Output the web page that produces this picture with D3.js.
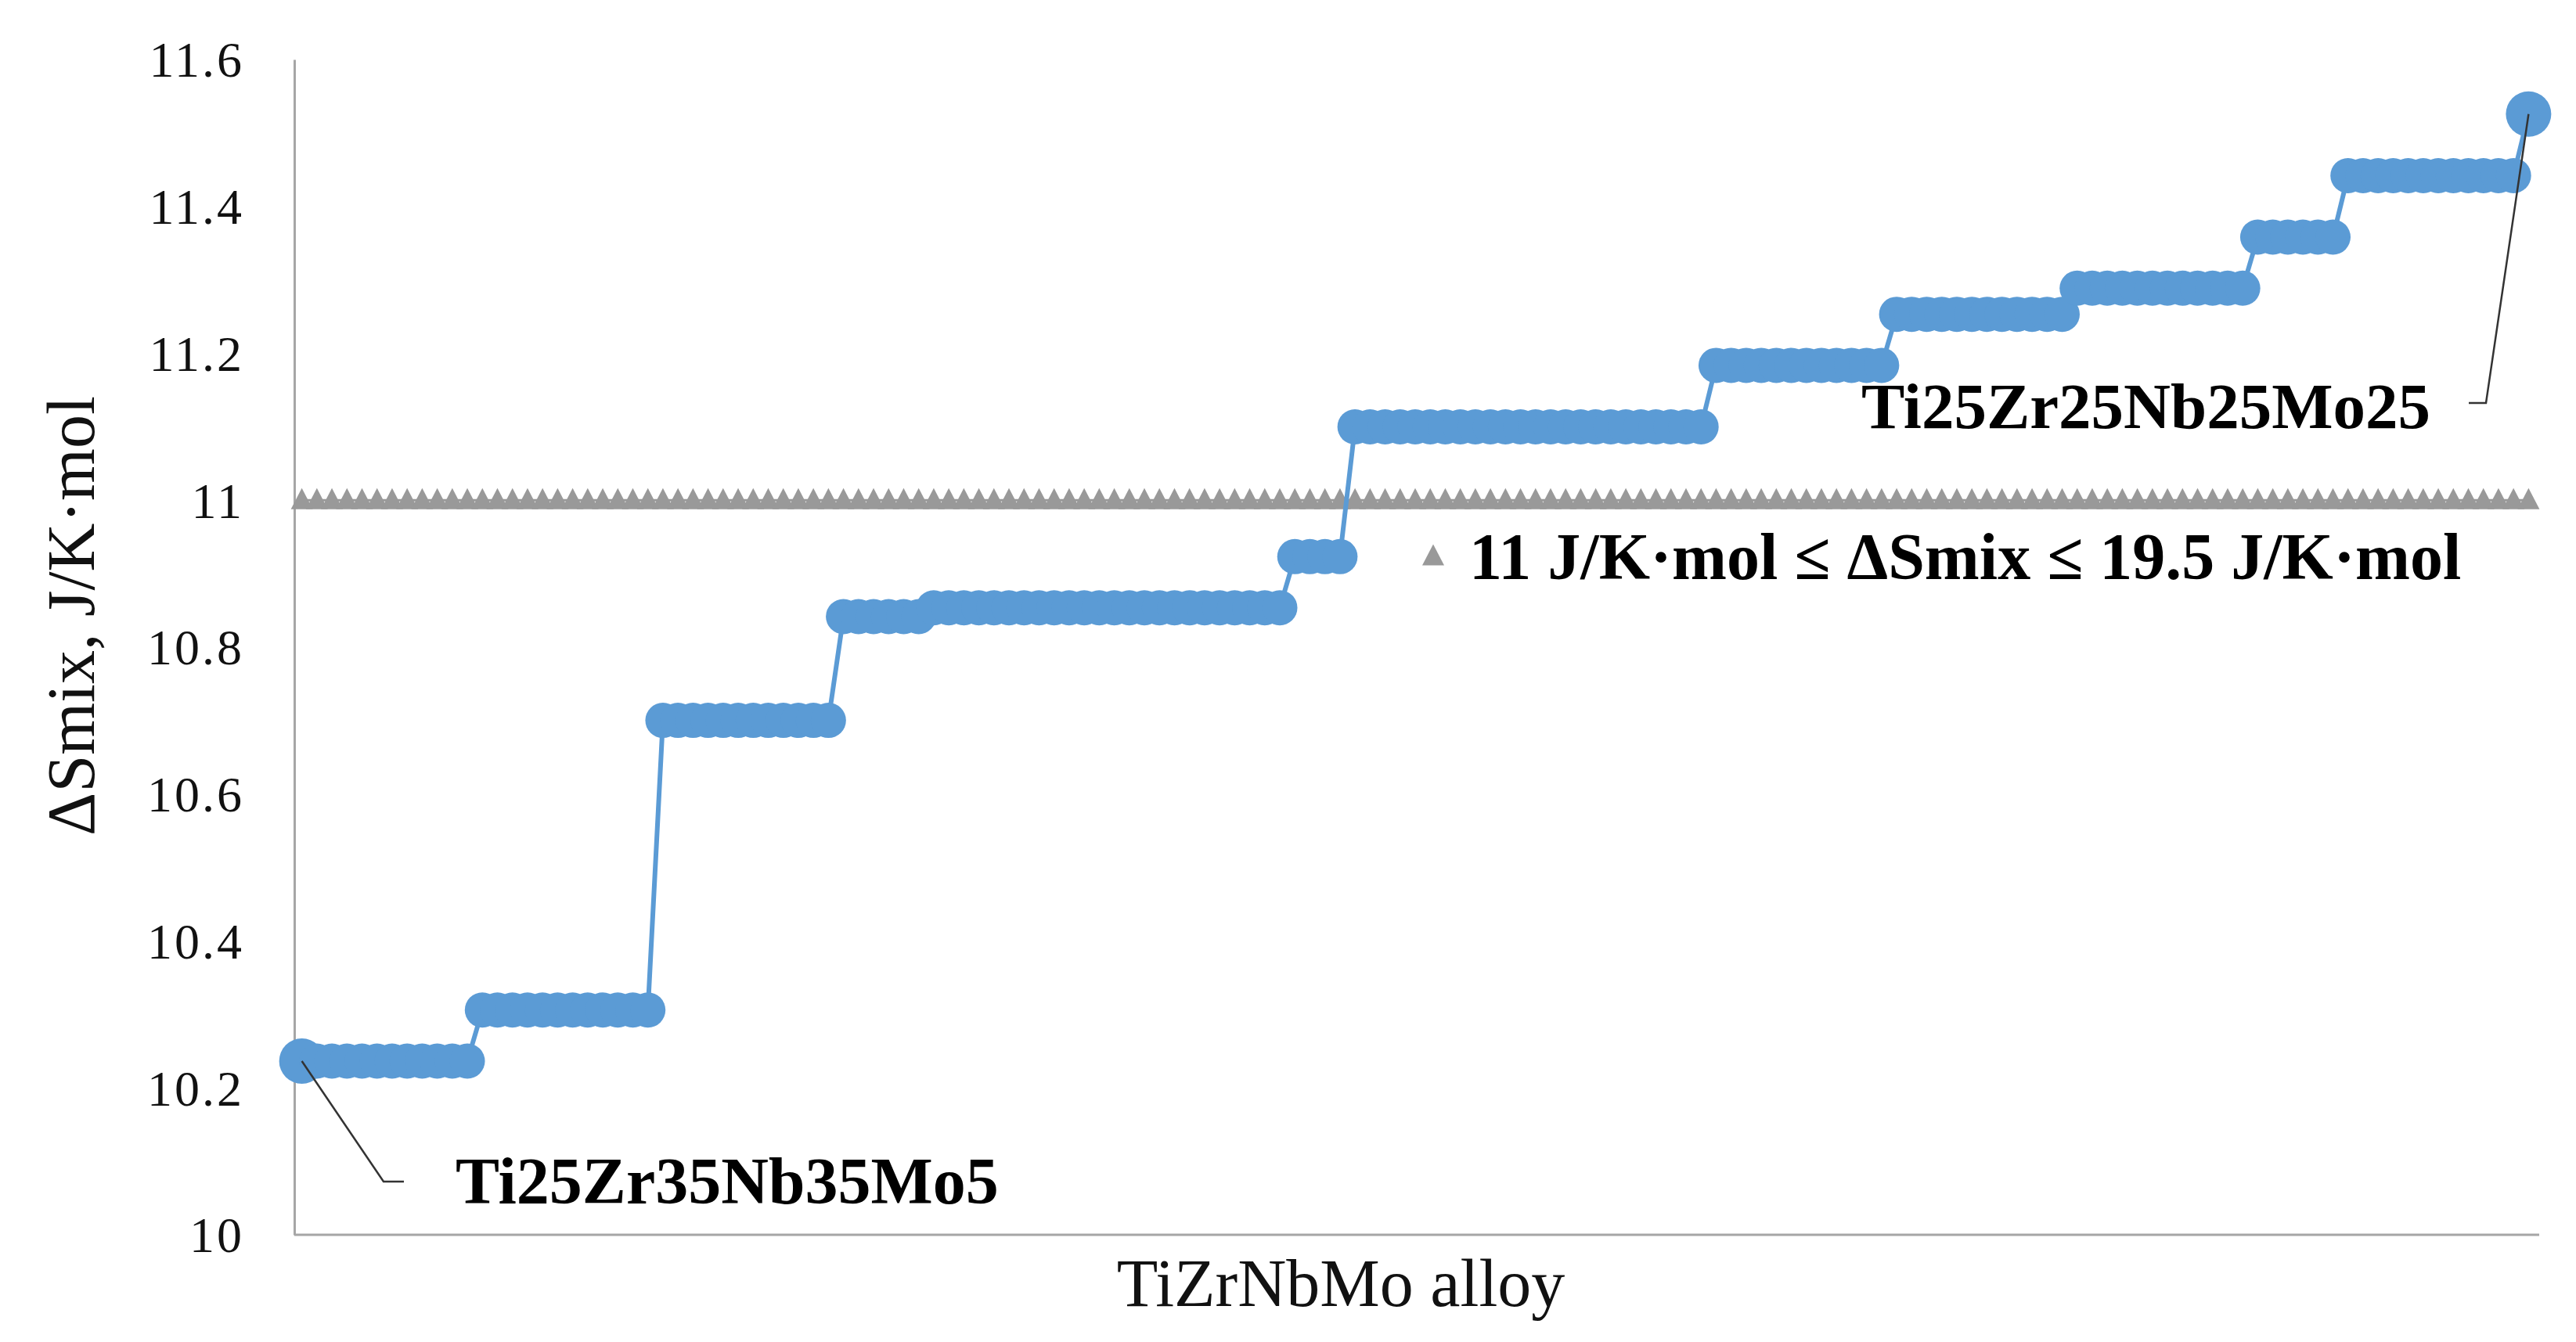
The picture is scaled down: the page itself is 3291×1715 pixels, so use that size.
<!DOCTYPE html>
<html>
<head>
<meta charset="utf-8">
<script src="https://cdn.jsdelivr.net/npm/d3@7"></script>
<style>
  html, body { margin: 0; padding: 0; background: #ffffff; }
  svg { display: block; }
</style>
</head>
<body>
<div id="chart"></div>
<script>
// ---- data ----
// ΔSmix values of the TiZrNbMo alloys, sorted ascending (J/K·mol)
const entropyValues = [
  10.2365, 10.2365, 10.2365, 10.2365, 10.2365, 10.2365, 10.2365, 10.2365, 10.2365, 10.2365, 10.2365, 10.2365,
  10.3060, 10.3060, 10.3060, 10.3060, 10.3060, 10.3060, 10.3060, 10.3060, 10.3060, 10.3060, 10.3060, 10.3060,
  10.7003, 10.7003, 10.7003, 10.7003, 10.7003, 10.7003, 10.7003, 10.7003, 10.7003, 10.7003, 10.7003, 10.7003,
  10.8416, 10.8416, 10.8416, 10.8416, 10.8416, 10.8416,
  10.8536, 10.8536, 10.8536, 10.8536, 10.8536, 10.8536, 10.8536, 10.8536, 10.8536, 10.8536, 10.8536, 10.8536,
  10.8536, 10.8536, 10.8536, 10.8536, 10.8536, 10.8536, 10.8536, 10.8536, 10.8536, 10.8536, 10.8536, 10.8536,
  10.9232, 10.9232, 10.9232, 10.9232,
  11.0999, 11.0999, 11.0999, 11.0999, 11.0999, 11.0999, 11.0999, 11.0999, 11.0999, 11.0999, 11.0999, 11.0999,
  11.0999, 11.0999, 11.0999, 11.0999, 11.0999, 11.0999, 11.0999, 11.0999, 11.0999, 11.0999, 11.0999, 11.0999,
  11.1836, 11.1836, 11.1836, 11.1836, 11.1836, 11.1836, 11.1836, 11.1836, 11.1836, 11.1836, 11.1836, 11.1836,
  11.2531, 11.2531, 11.2531, 11.2531, 11.2531, 11.2531, 11.2531, 11.2531, 11.2531, 11.2531, 11.2531, 11.2531,
  11.2886, 11.2886, 11.2886, 11.2886, 11.2886, 11.2886, 11.2886, 11.2886, 11.2886, 11.2886, 11.2886, 11.2886,
  11.3582, 11.3582, 11.3582, 11.3582, 11.3582, 11.3582,
  11.4419, 11.4419, 11.4419, 11.4419, 11.4419, 11.4419, 11.4419, 11.4419, 11.4419, 11.4419, 11.4419, 11.4419,
  11.5257
];
// lower limit series (11 J/K·mol) drawn for every alloy
const limitValues = [
  11,11,11,11,11,11,11,11,11,11,11,11,11,11,11,11,11,11,11,11,11,11,11,11,11,11,11,11,11,11,
  11,11,11,11,11,11,11,11,11,11,11,11,11,11,11,11,11,11,11,11,11,11,11,11,11,11,11,11,11,11,
  11,11,11,11,11,11,11,11,11,11,11,11,11,11,11,11,11,11,11,11,11,11,11,11,11,11,11,11,11,11,
  11,11,11,11,11,11,11,11,11,11,11,11,11,11,11,11,11,11,11,11,11,11,11,11,11,11,11,11,11,11,
  11,11,11,11,11,11,11,11,11,11,11,11,11,11,11,11,11,11,11,11,11,11,11,11,11,11,11,11,11
];
const categories = entropyValues.map((_, i) => i + 1);   // alloy number
const yTickValues = [10, 10.2, 10.4, 10.6, 10.8, 11, 11.2, 11.4, 11.6];
const yTickLabels = ["10", "10.2", "10.4", "10.6", "10.8", "11", "11.2", "11.4", "11.6"];
const firstLabel = "Ti25Zr35Nb35Mo5";
const lastLabel = "Ti25Zr25Nb25Mo25";
const legendLabel = "11 J/K·mol ≤ ΔSmix ≤ 19.5 J/K·mol";
const xTitle = "TiZrNbMo alloy";
const yTitle = "ΔSmix, J/K·mol";

// ---- layout ----
const W = 3291, H = 1715;
const plot = { left: 376, right: 3240, top: 76, bottom: 1578 };
const blue = "#5b9bd5";
const grey = "#999999";
const serif = "'Liberation Serif', 'Times New Roman', serif";

const svg = d3.select("#chart").append("svg")
  .attr("width", W).attr("height", H)
  .attr("viewBox", `0 0 ${W} ${H}`);
svg.append("rect").attr("width", W).attr("height", H).attr("fill", "#ffffff");

const x = d3.scalePoint().domain(categories).range([plot.left, plot.right]).padding(0.5);
const y = d3.scaleLinear().domain([10, 11.6]).range([plot.bottom, plot.top]);

// y axis
const yAxis = svg.append("g")
  .attr("transform", `translate(${plot.left},0)`)
  .call(d3.axisLeft(y).tickValues(yTickValues)
    .tickFormat((d, i) => yTickLabels[i]).tickSize(0).tickPadding(64));
yAxis.select(".domain").attr("stroke", "#a6a6a6").attr("stroke-width", 3);
yAxis.selectAll("text")
  .attr("font-family", serif).attr("font-size", 64)
  .attr("letter-spacing", 3).attr("fill", "#111").attr("dy", "0.34em");

// x axis (no ticks)
const xAxis = svg.append("g")
  .attr("transform", `translate(0,${plot.bottom})`)
  .call(d3.axisBottom(x).tickValues([]).tickSizeOuter(0));
xAxis.select(".domain").attr("stroke", "#a6a6a6").attr("stroke-width", 3)
  .attr("d", `M${plot.left},0H${plot.right + 4}`);

// limit series: grey triangles
const tri = "M0,-13.5L14,13.5L-14,13.5Z";
svg.append("path")
  .datum(limitValues)
  .attr("fill", "none").attr("stroke", grey).attr("stroke-width", 3)
  .attr("d", d3.line().x((d, i) => x(categories[i])).y(d => y(d)));
svg.append("g").selectAll("path")
  .data(limitValues).join("path")
  .attr("d", tri)
  .attr("transform", (d, i) => `translate(${x(categories[i])},${y(d) - 2})`)
  .attr("fill", grey);

// entropy series: blue line + circles
svg.append("path")
  .datum(entropyValues)
  .attr("fill", "none").attr("stroke", blue).attr("stroke-width", 6)
  .attr("d", d3.line().x((d, i) => x(categories[i])).y(d => y(d)));
const last = entropyValues.length - 1;
svg.append("g").selectAll("circle")
  .data(entropyValues).join("circle")
  .attr("cx", (d, i) => x(categories[i]))
  .attr("cy", d => y(d))
  .attr("r", (d, i) => (i === 0 || i === last) ? 29 : 22.5)
  .attr("fill", blue);

// data labels with leader lines
const x0 = x(categories[0]), y0 = y(entropyValues[0]);
svg.append("path")
  .attr("d", `M${x0},${y0}L490,1510H516`)
  .attr("fill", "none").attr("stroke", "#333").attr("stroke-width", 2.5);
svg.append("text")
  .attr("x", 582).attr("y", 1538)
  .attr("font-family", serif).attr("font-weight", "bold").attr("font-size", 84)
  .attr("fill", "#000").text(firstLabel);

const xl = x(categories[last]), yl = y(entropyValues[last]);
svg.append("path")
  .attr("d", `M${xl},${yl}L3176,515H3154`)
  .attr("fill", "none").attr("stroke", "#333").attr("stroke-width", 2.5);
svg.append("text")
  .attr("x", 2378).attr("y", 547)
  .attr("font-family", serif).attr("font-weight", "bold").attr("font-size", 83)
  .attr("fill", "#000").text(lastLabel);

// legend
svg.append("path")
  .attr("d", tri).attr("transform", "translate(1831,709)").attr("fill", grey);
svg.append("text")
  .attr("x", 1877).attr("y", 740)
  .attr("font-family", serif).attr("font-weight", "bold").attr("font-size", 84)
  .attr("fill", "#000").text(legendLabel);

// axis titles
svg.append("text")
  .attr("x", 1713).attr("y", 1669).attr("text-anchor", "middle")
  .attr("font-family", serif).attr("font-size", 86).attr("fill", "#111")
  .text(xTitle);
svg.append("text")
  .attr("transform", "translate(120,787) rotate(-90)")
  .attr("text-anchor", "middle")
  .attr("font-family", serif).attr("font-size", 86).attr("fill", "#111")
  .text(yTitle);
</script>
</body>
</html>
